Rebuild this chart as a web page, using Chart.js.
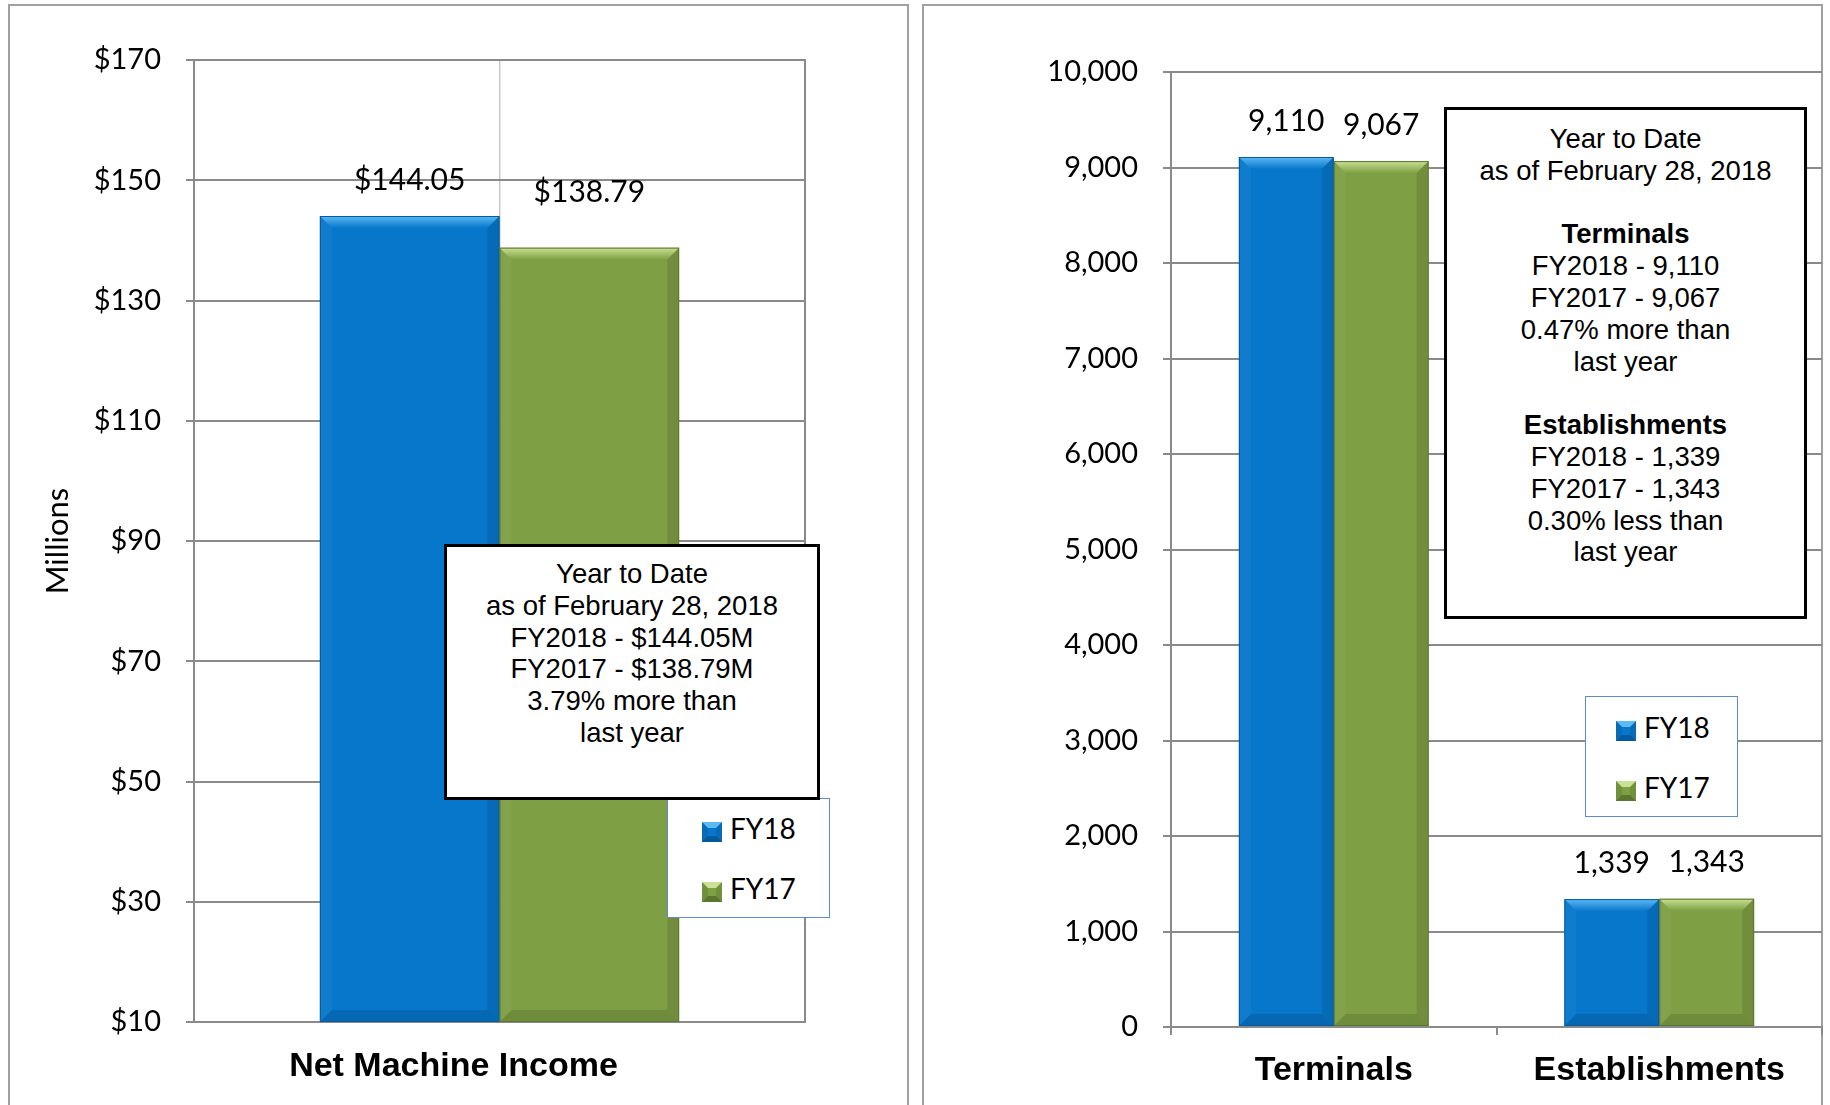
<!DOCTYPE html>
<html>

<head>
  <meta charset="UTF-8">
  <title>Net Machine Income / Terminals and Establishments</title>
  <script src="https://cdn.jsdelivr.net/npm/chart.js"></script>
  <style>
    body {
      margin: 0;
      width: 1830px;
      height: 1105px;
      overflow: hidden;
      background: white;
      position: relative;
      font-family: "Liberation Sans", Arial, sans-serif;
    }

    .panel {
      position: absolute;
      border: 2px solid #a0a0a0;
      box-sizing: border-box;
    }

    canvas {
      position: absolute;
      top: 0;
    }

    .note {
      position: absolute;
      background: white;
      border: 3px solid black;
      box-sizing: border-box;
      text-align: center;
      font-size: 27.5px;
      line-height: 31.8px;
      color: black;
    }

    .note b {
      font-weight: bold;
    }

    .legend {
      position: absolute;
      background: white;
      border: 1.5px solid #5b8bd0;
      box-sizing: border-box;
      font-family: Lato, sans-serif;
      font-size: 28px;
      color: black;
    }

    .legend .item {
      position: absolute;
      height: 30px;
      line-height: 30px;
      white-space: nowrap;
    }

    .sw {
      display: inline-block;
      width: 8px;
      height: 8px;
      border-style: solid;
      border-width: 6px;
      vertical-align: -3px;
      margin-right: 8px;
    }
  </style>
</head>

<body>
  <div class="panel" style="left:8px; top:4px; width:901px; height:1120px;"></div>
  <div class="panel" style="left:922px; top:4px; width:901px; height:1120px;"></div>

  <canvas id="incomeChart" width="915" height="1105" style="left:0px;"></canvas>
  <canvas id="countChart" width="915" height="1105" style="left:915px;"></canvas>

  <div class="legend" style="left:667px; top:798px; width:163px; height:120px;">
    <div class="item" style="left:34px; top:14px;"><span class="sw blue"></span>FY18</div>
    <div class="item" style="left:34px; top:74px;"><span class="sw green"></span>FY17</div>
  </div>
  <div class="note" id="incomeNote" style="left:444px; top:544px; width:376px; height:256px; padding-top:11px;"></div>

  <div class="legend" style="left:1585px; top:696px; width:153px; height:121px;">
    <div class="item" style="left:30px; top:15px;"><span class="sw blue"></span>FY18</div>
    <div class="item" style="left:30px; top:75px;"><span class="sw green"></span>FY17</div>
  </div>
  <div class="note" id="countNote" style="left:1444px; top:107px; width:363px; height:512px; padding-top:13px;"></div>

  <script>
    // ---- data ----
    const incomeCategories = ['Net Machine Income'];
    const incomeFY18 = [144.05];
    const incomeFY17 = [138.79];
    const incomeMin = 10, incomeMax = 170, incomeStep = 20;

    const countCategories = ['Terminals', 'Establishments'];
    const countFY18 = [9110, 1339];
    const countFY17 = [9067, 1343];
    const countMin = 0, countMax = 10000, countStep = 1000;

    const seriesNames = ['FY18', 'FY17'];

    const incomeNoteLines = ['Year to Date', 'as of February 28, 2018', 'FY2018 - $144.05M', 'FY2017 - $138.79M', '3.79% more than', 'last year'];
    const countNoteLines = ['Year to Date', 'as of February 28, 2018', '', '*Terminals', 'FY2018 - 9,110', 'FY2017 - 9,067',
      '0.47% more than', 'last year', '', '*Establishments', 'FY2018 - 1,339', 'FY2017 - 1,343', '0.30% less than', 'last year'];

    // colours
    const blue = '#0777cb', blueLight = '#5cbaf5', blueDark = '#045a9c';
    const green = '#7f9f45', greenLight = '#c9e293', greenDark = '#5b7630';
    const gridGray = '#8a8a8a';

    function fillNote(id, lines) {
      const el = document.getElementById(id);
      lines.forEach(line => {
        const d = document.createElement('div');
        if (line.startsWith('*')) {
          d.innerHTML = '<b></b>';
          d.firstChild.textContent = line.slice(1);
        } else {
          d.textContent = line || '\u00a0';
        }
        el.appendChild(d);
      });
    }
    fillNote('incomeNote', incomeNoteLines);
    fillNote('countNote', countNoteLines);

    document.querySelectorAll('.sw.blue').forEach(s => {
      s.style.background = blue;
      s.style.borderColor = blueLight + ' #0a6bb5 ' + blueDark + ' #0a6bb5';
    });
    document.querySelectorAll('.sw.green').forEach(s => {
      s.style.background = green;
      s.style.borderColor = greenLight + ' #71903c ' + greenDark + ' #71903c';
    });

    // bevel look of the bars
    const bevelPlugin = {
      id: 'bevel',
      afterDatasetsDraw(chart) {
        const ctx = chart.ctx;
        const area = chart.chartArea;
        chart.data.datasets.forEach((ds, i) => {
          chart.getDatasetMeta(i).data.forEach(bar => {
            const w = bar.width;
            const l = bar.x - w / 2, r = bar.x + w / 2, t = bar.y, s = 12;
            const b = Math.min(bar.base, area.bottom);
            const poly = (pts, fill) => {
              ctx.beginPath();
              ctx.moveTo(pts[0][0], pts[0][1]);
              for (let k = 1; k < pts.length; k++) ctx.lineTo(pts[k][0], pts[k][1]);
              ctx.closePath();
              ctx.fillStyle = fill;
              ctx.fill();
            };
            ctx.save();
            const g = ctx.createLinearGradient(0, t, 0, t + s);
            g.addColorStop(0, ds.bevelLight);
            g.addColorStop(1, ds.backgroundColor);
            poly([[l, t], [r, t], [r - s, t + s], [l + s, t + s]], g);
            poly([[r, t], [r, b], [r - s, b - s], [r - s, t + s]], 'rgba(0,0,0,0.10)');
            poly([[l, t], [l, b], [l + s, b - s], [l + s, t + s]], 'rgba(255,255,255,0.04)');
            poly([[l, b], [r, b], [r - s, b - s], [l + s, b - s]], 'rgba(0,0,0,0.12)');
            ctx.strokeStyle = ds.bevelDark;
            ctx.lineWidth = 1;
            ctx.strokeRect(l + 0.5, t + 0.5, w - 1, b - t - 1);
            ctx.restore();
          });
        });
      }
    };

    // value labels above the bars
    const valueLabels = {
      id: 'valueLabels',
      afterDatasetsDraw(chart, args, opts) {
        const ctx = chart.ctx;
        ctx.save();
        ctx.font = '30px Lato';
        ctx.fillStyle = '#000';
        ctx.textAlign = 'center';
        ctx.textBaseline = 'middle';
        chart.data.datasets.forEach((ds, i) => {
          chart.getDatasetMeta(i).data.forEach((bar, j) => {
            ctx.fillText(opts.format(ds.data[j]), bar.x, bar.y - (ds.labelOffset || 36));
          });
        });
        ctx.restore();
      }
    };

    Chart.defaults.font.family = 'Lato';
    Chart.defaults.color = '#000';

    // ---- left chart ----
    new Chart(document.getElementById('incomeChart'), {
      type: 'bar',
      data: {
        labels: incomeCategories,
        datasets: [{
          label: seriesNames[0],
          data: incomeFY18,
          backgroundColor: blue,
          bevelLight: blueLight,
          bevelDark: blueDark,
          labelOffset: 36
        }, {
          label: seriesNames[1],
          data: incomeFY17,
          backgroundColor: green,
          bevelLight: greenLight,
          bevelDark: greenDark,
          labelOffset: 55
        }]
      },
      options: {
        responsive: false,
        animation: false,
        layout: { padding: { left: 35.5, top: 60, right: 110, bottom: 0 } },
        datasets: { bar: { categoryPercentage: 0.588, barPercentage: 1 } },
        plugins: {
          legend: { display: false },
          tooltip: { enabled: false },
          valueLabels: { format: v => '$' + v.toFixed(2) }
        },
        scales: {
          x: {
            grid: { offset: false, color: '#c8c8c8', lineWidth: 1.5, drawTicks: false },
            border: { color: gridGray, width: 2 },
            ticks: { font: { family: '"Liberation Sans", Arial', size: 34, weight: 'bold' }, padding: 24, labelOffset: -46 },
            afterFit: s => { s.height = 83; }
          },
          y: {
            min: incomeMin,
            max: incomeMax,
            grid: { color: gridGray, lineWidth: 2, tickLength: 8 },
            border: { color: gridGray, width: 2 },
            ticks: { stepSize: incomeStep, padding: 25, font: { size: 29 }, callback: v => '$' + v },
            title: { display: true, text: 'Millions', font: { size: 31 } },
            afterFit: s => { s.width = 158.5; }
          },
          yRight: {
            position: 'right',
            min: incomeMin,
            max: incomeMax,
            grid: { display: false },
            ticks: { display: false },
            border: { color: gridGray, width: 2 },
            afterFit: s => { s.width = 0; }
          }
        }
      },
      plugins: [bevelPlugin, valueLabels]
    });

    // ---- right chart ----
    new Chart(document.getElementById('countChart'), {
      type: 'bar',
      data: {
        labels: countCategories,
        datasets: [{
          label: seriesNames[0],
          data: countFY18,
          backgroundColor: blue,
          bevelLight: blueLight,
          bevelDark: blueDark
        }, {
          label: seriesNames[1],
          data: countFY17,
          backgroundColor: green,
          bevelLight: greenLight,
          bevelDark: greenDark
        }]
      },
      options: {
        responsive: false,
        animation: false,
        layout: { padding: { left: 0, top: 72, right: 8, bottom: 0 } },
        datasets: { bar: { categoryPercentage: 0.583, barPercentage: 1 } },
        plugins: {
          legend: { display: false },
          tooltip: { enabled: false },
          valueLabels: { format: v => v.toLocaleString('en-US') }
        },
        scales: {
          x: {
            grid: { color: gridGray, lineWidth: 2, drawOnChartArea: false, tickLength: 8 },
            border: { color: gridGray, width: 2 },
            ticks: { font: { family: '"Liberation Sans", Arial', size: 34, weight: 'bold' }, padding: 15 },
            afterFit: s => { s.height = 78; }
          },
          y: {
            min: countMin,
            max: countMax,
            grid: { color: gridGray, lineWidth: 2, tickLength: 8 },
            border: { color: gridGray, width: 2 },
            ticks: { stepSize: countStep, padding: 25, font: { size: 29 }, callback: v => v.toLocaleString('en-US') },
            afterFit: s => { s.width = 256; }
          }
        }
      },
      plugins: [bevelPlugin, valueLabels]
    });
  </script>
</body>

</html>
